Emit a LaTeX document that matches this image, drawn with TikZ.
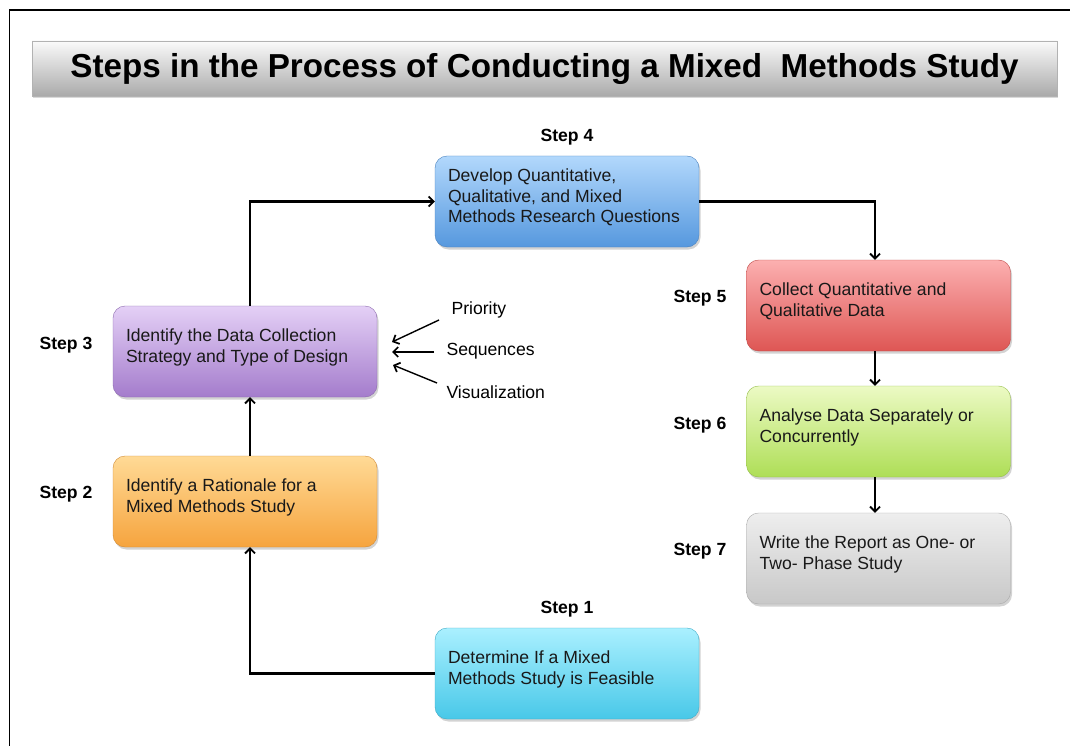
\documentclass[tikz,border=0pt]{standalone}
\usepackage{fontspec}
\setmainfont{Liberation Sans}
\usetikzlibrary{arrows.meta,shadows,calc}

% colour pairs for the step boxes (light top, deeper bottom)
\definecolor{blueT}{RGB}{178,216,252}
\definecolor{blueB}{RGB}{86,152,222}
\definecolor{purpT}{RGB}{228,208,246}
\definecolor{purpB}{RGB}{164,124,204}
\definecolor{oranT}{RGB}{255,218,150}
\definecolor{oranB}{RGB}{246,164,62}
\definecolor{cyanT}{RGB}{170,240,255}
\definecolor{cyanB}{RGB}{72,200,232}
\definecolor{redT}{RGB}{252,176,176}
\definecolor{redB}{RGB}{222,86,84}
\definecolor{grnT}{RGB}{236,250,196}
\definecolor{grnB}{RGB}{174,222,86}
\definecolor{grayT}{RGB}{238,238,238}
\definecolor{grayB}{RGB}{200,200,200}
\definecolor{titleT}{RGB}{250,250,250}
\definecolor{titleB}{RGB}{170,170,170}

% box text sits a little above the box centre
\newcommand{\steptext}[1]{\parbox{238pt}{\raggedright #1\par\vspace{8pt}}}

\tikzset{
  stepbox/.style n args={2}{rectangle, rounded corners=12pt,
    minimum width=264pt, minimum height=91pt, inner xsep=13pt, inner ysep=0pt,
    top color=#1, bottom color=#2, draw=#2!85!black, line width=0.4pt,
    drop shadow={opacity=0.35, shadow xshift=1.5pt, shadow yshift=-2.5pt},
    font=\fontsize{17.6}{20.5}\selectfont, align=left, text=black!90},
  steplabel/.style={font=\bfseries\fontsize{17.6}{20}\selectfont},
  factor/.style={font=\fontsize{17.6}{20}\selectfont},
  link/.style={line width=2.2pt, -{Straight Barb[length=5pt,width=10pt,line width=1.8pt]}},
  thin link/.style={line width=1.4pt, -{Straight Barb[length=5pt,width=10pt,line width=1.7pt]}},
}

\begin{document}
\begin{tikzpicture}[x=1pt,y=-1pt]
\useasboundingbox (0,0) rectangle (1070,746);

% outer frame (top and left edges)
\draw[line width=1.6pt] (9.5,746) -- (9.5,10) -- (1070,10);

% title bar
\node[rectangle, minimum width=1025pt, minimum height=55pt, inner sep=0pt,
  top color=titleT, bottom color=titleB, draw=titleB!90, line width=0.3pt,
  drop shadow={opacity=0.3, shadow xshift=1pt, shadow yshift=-2pt},
  font=\bfseries\fontsize{33.2}{36}\selectfont]
  (title) at (544.5,68.5) {Steps in the Process of Conducting a Mixed\ \ Methods Study};

% step boxes
\node[stepbox={cyanT}{cyanB}] (s1) at (567,673.5) {\steptext{Determine If a Mixed\\Methods Study is Feasible}};
\node[stepbox={oranT}{oranB}] (s2) at (245,501.5) {\steptext{Identify a Rationale for a\\Mixed Methods Study}};
\node[stepbox={purpT}{purpB}] (s3) at (245,351.5) {\steptext{Identify the Data Collection\\Strategy and Type of Design}};
\node[stepbox={blueT}{blueB}] (s4) at (567,201.5) {\steptext{Develop Quantitative,\\Qualitative, and Mixed\\Methods Research Questions}};
\node[stepbox={redT}{redB}]   (s5) at (878.5,305.5) {\steptext{Collect Quantitative and\\Qualitative Data}};
\node[stepbox={grnT}{grnB}]   (s6) at (878.5,431.5) {\steptext{Analyse Data Separately or\\Concurrently}};
\node[stepbox={grayT}{grayB}] (s7) at (878.5,558.5) {\steptext{Write the Report as One- or\\Two- Phase Study}};

% step labels
\node[steplabel] (l1) at (567,609) {Step 1};
\node[steplabel] (l2) at (66,494) {Step 2};
\node[steplabel] (l3) at (66,345) {Step 3};
\node[steplabel] (l4) at (567,137) {Step 4};
\node[steplabel] (l5) at (700,298) {Step 5};
\node[steplabel] (l6) at (700,425) {Step 6};
\node[steplabel] (l7) at (700,551) {Step 7};

% design considerations feeding step 3
\node[factor, anchor=west] (pri) at (448,310) {Priority};
\node[factor, anchor=west] (seq) at (443,351) {Sequences};
\node[factor, anchor=west] (vis) at (443,392) {Visualization};
\coordinate (pa) at (439,320);
\coordinate (pt) at (392,342);
\coordinate (qa) at (434,352);
\coordinate (qt) at (392,352);
\coordinate (va) at (437,383);
\coordinate (vt) at (393,365);
\draw[thin link] (pa) -- (pt);
\draw[thin link] (qa) -- (qt);
\draw[thin link] (va) -- (vt);

% flow between the steps
\draw[link] (s1.west) -| ([xshift=5pt]s2.south);
\draw[link] ([xshift=5pt]s2.north) -- ([xshift=5pt]s3.south);
\draw[link] ([xshift=5pt]s3.north) |- (s4.west);
\draw[link] (s4.east) -| ([xshift=-3.5pt]s5.north);
\draw[link] ([xshift=-3.5pt]s5.south) -- ([xshift=-3.5pt]s6.north);
\draw[link] ([xshift=-3.5pt]s6.south) -- ([xshift=-3.5pt]s7.north);
\end{tikzpicture}
\end{document}
